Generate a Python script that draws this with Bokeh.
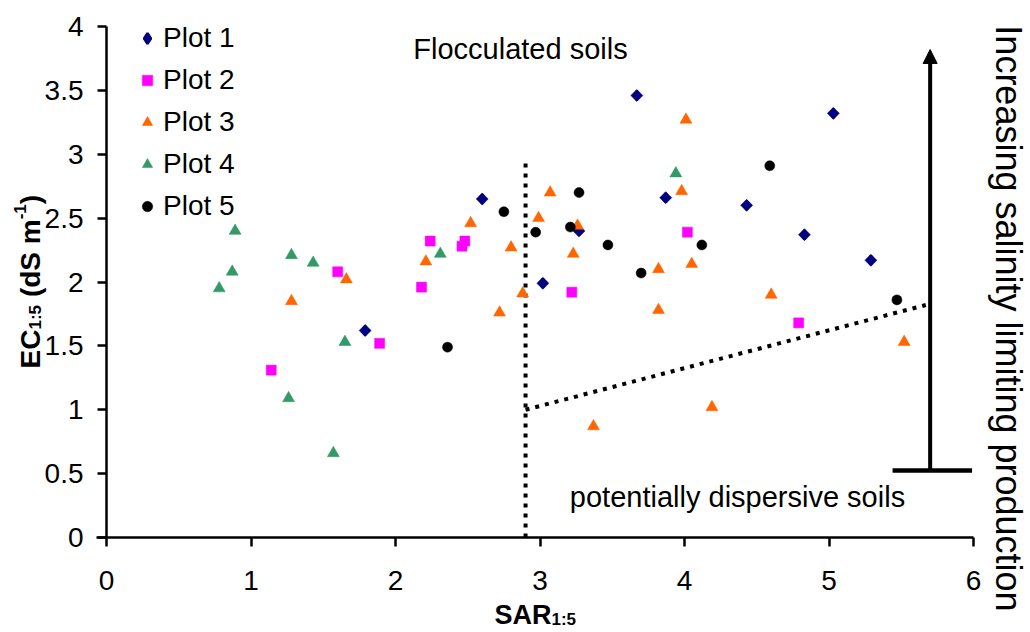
import math
from bokeh.plotting import figure
from bokeh.models import (Range1d, FixedTicker, Label, Legend, LegendItem,
                          Arrow, NormalHead)
from bokeh.embed import file_html
from bokeh.resources import INLINE

# ---------------- data ----------------
p1_x = [3.67, 2.60, 3.87, 3.27, 3.02, 1.79, 5.03, 4.43, 4.83, 5.29]
p1_y = [3.46, 2.65, 2.66, 2.40, 1.99, 1.62, 3.32, 2.60, 2.37, 2.17]

p2_x = [1.60, 1.89, 1.14, 2.24, 2.48, 2.46, 2.18, 3.22, 4.02, 4.79]
p2_y = [2.08, 1.52, 1.31, 2.32, 2.32, 2.28, 1.96, 1.92, 2.39, 1.68]

p3_x = [1.66, 1.28, 2.21, 2.52, 2.80, 3.07, 2.99, 3.26, 3.23, 4.01,
        3.98, 3.82, 4.05, 2.88, 2.72, 3.82, 3.37, 4.60, 4.19, 5.52]
p3_y = [2.02, 1.85, 2.16, 2.46, 2.27, 2.70, 2.50, 2.44, 2.22, 3.27,
        2.71, 2.10, 2.14, 1.91, 1.76, 1.78, 0.87, 1.90, 1.02, 1.53]

p4_x = [0.89, 0.87, 0.78, 1.28, 1.43, 1.65, 1.26, 1.57, 2.31, 3.94]
p4_y = [2.40, 2.08, 1.95, 2.21, 2.15, 1.53, 1.09, 0.66, 2.22, 2.85]

p5_x = [2.75, 3.27, 2.97, 3.21, 3.47, 3.70, 2.36, 4.59, 4.12, 5.47]
p5_y = [2.55, 2.70, 2.39, 2.43, 2.29, 2.07, 1.49, 2.91, 2.29, 1.86]

series_names = ["Plot 1", "Plot 2", "Plot 3", "Plot 4", "Plot 5"]

x_ticks = [0, 1, 2, 3, 4, 5, 6]
x_tick_labels = ["0", "1", "2", "3", "4", "5", "6"]
y_ticks = [0, 0.5, 1, 1.5, 2, 2.5, 3, 3.5, 4]
y_tick_labels = ["0", "0.5", "1", "1.5", "2", "2.5", "3", "3.5", "4"]

# boundary lines (SAR threshold and sloped boundary)
thresh_x = [2.9, 2.9]
thresh_y = [0.0, 2.95]
slope_x = [2.9, 5.67]
slope_y = [1.0, 1.82]

# salinity arrow and its base bar
arrow_x = [5.70, 5.70]
arrow_y = [0.524, 3.82]
bar_x = [5.44, 5.99]
bar_y = [0.524, 0.524]

# ---------------- layout (axes box in pixels) ----------------
W, H = 1030, 632
AL, AT, AR, AB = 106, 26, 973, 537      # pixel positions of x=0, y=4, x=6, y=0
XMAX, YMAX = 6.0, 4.0
SX = (AR - AL) / XMAX
SY = (AB - AT) / YMAX
def dx(px):
    return (px - AL) / SX
def dy(py):
    return (AB - py) / SY

FONT = "Liberation Sans"

p = figure(width=W, height=H, output_backend="svg", toolbar_location=None,
           x_range=Range1d(dx(0), dx(W)), y_range=Range1d(dy(H), dy(0)),
           min_border_left=0, min_border_right=0,
           min_border_top=0, min_border_bottom=0)
p.outline_line_color = None
p.xgrid.visible = False
p.ygrid.visible = False
p.background_fill_color = "white"
p.border_fill_color = "white"

p.xaxis.fixed_location = 0
p.yaxis.fixed_location = 0
p.xaxis.bounds = (-0.07, XMAX)
p.yaxis.bounds = (0, YMAX)

for ax, ticks, labels in ((p.xaxis[0], x_ticks, x_tick_labels),
                          (p.yaxis[0], y_ticks, y_tick_labels)):
    ax.ticker = FixedTicker(ticks=ticks)
    ax.major_label_overrides = {t: l for t, l in zip(ticks, labels)}
    ax.axis_line_width = 2.5
    ax.axis_line_color = "black"
    ax.major_tick_line_width = 2.5
    ax.major_tick_line_color = "black"
    ax.major_tick_out = 9
    ax.major_tick_in = 0
    ax.minor_tick_line_color = None
    ax.major_label_text_font = FONT
    ax.major_label_text_font_size = "28px"
    ax.major_label_text_color = "black"
p.xaxis.major_label_standoff = 24
p.yaxis.major_label_standoff = 14

# boundary lines
p.line(thresh_x, thresh_y, line_color="black", line_width=4, line_dash="4 6")
p.line(slope_x, slope_y, line_color="black", line_width=4, line_dash="4 6")

# arrow
p.add_layout(Arrow(x_start=arrow_x[0], y_start=arrow_y[0],
                   x_end=arrow_x[1], y_end=arrow_y[1],
                   line_color="black", line_width=4,
                   end=NormalHead(size=14, fill_color="black", line_color="black", line_width=1)))
p.line(bar_x, bar_y, line_color="black", line_width=4.5)

# scatter series
# diamond-shaped key for Plot 1 (drawn under the rotated squares, used by the legend)
r1_key = p.scatter(p1_x, p1_y, marker="diamond", size=9,
                   fill_color="#000080", line_color="#000080", line_width=2.5)
r1 = p.scatter(p1_x, p1_y, marker="square", angle=math.pi / 4, size=8.5,
               fill_color="#000080", line_color="#000080", line_width=0.5)
r2 = p.scatter(p2_x, p2_y, marker="square", size=10,
               fill_color="#FF00FF", line_color="#FF00FF", line_width=0.5)
r3 = p.scatter(p3_x, p3_y, marker="triangle", size=12,
               fill_color="#FF6600", line_color="#FF6600", line_width=0.5)
r4 = p.scatter(p4_x, p4_y, marker="triangle", size=12,
               fill_color="#339966", line_color="#339966", line_width=0.5)
r5 = p.scatter(p5_x, p5_y, marker="circle", size=10,
               fill_color="black", line_color="black", line_width=0.5)

legend = Legend(items=[LegendItem(label=n, renderers=[r]) for n, r in
                       zip(series_names, [r1_key, r2, r3, r4, r5])],
                location=(AL + 28, (H - AB) + 310), padding=0, margin=0, spacing=0,
                glyph_width=26, glyph_height=26, label_height=42,
                label_standoff=3, border_line_color=None,
                background_fill_alpha=0,
                label_text_font=FONT, label_text_font_size="28px",
                label_text_color="black")
p.add_layout(legend)

def lab(text, px, py, size, bold=False, angle=0.0, align="left", baseline="alphabetic"):
    p.add_layout(Label(x=dx(px), y=dy(py), text=text, angle=angle,
                       text_font=FONT, text_font_size=f"{size}px",
                       text_font_style="bold" if bold else "normal",
                       text_align=align, text_baseline=baseline,
                       text_color="black"))

# region annotations
lab("Flocculated soils", 520, 48, 29, align="center")
lab("potentially dispersive soils", 737, 496, 29, align="center")
lab("Increasing salinity limiting production", 1008, 318, 36,
    angle=-math.pi / 2, align="center", baseline="middle")

# x-axis title: SAR with subscript 1:5
lab("SAR", 494, 614, 27, bold=True)
lab("1:5", 494 + 57, 619, 17, bold=True)

# y-axis title: EC_1:5 (dS m^-1), rotated
up = math.pi / 2
bx = 30
y0 = 368
lab("EC", bx, y0, 28, bold=True, angle=up)
y1 = y0 - 39
lab("1:5", bx + 5, y1, 17, bold=True, angle=up)
y2 = y1 - 24.6 - 7.8
lab("(dS m", bx, y2, 28, bold=True, angle=up)
y3 = y2 - 77.8
lab("-1", bx - 11, y3, 17, bold=True, angle=up)
y4 = y3 - 15
lab(")", bx, y4, 28, bold=True, angle=up)

open("out.html", "w").write(file_html(p, INLINE))
